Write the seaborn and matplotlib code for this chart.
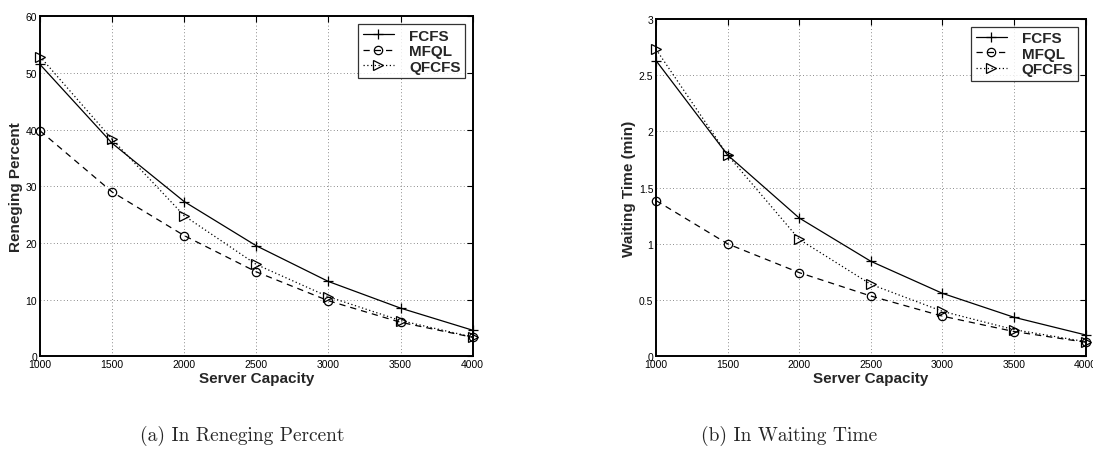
import matplotlib
matplotlib.use("Agg")
import matplotlib.pyplot as plt
import seaborn as sns
import pandas as pd

# Server capacities on the x axis
capacity = [1000, 1500, 2000, 2500, 3000, 3500, 4000]

# Reneging percent per scheduling policy
reneging_fcfs = [51.5, 37.6, 27.3, 19.5, 13.2, 8.5, 4.6]
reneging_mfql = [39.8, 29.0, 21.3, 14.9, 9.8, 6.0, 3.35]
reneging_qfcfs = [52.9, 38.3, 24.8, 16.2, 10.5, 6.3, 3.4]

# Waiting time (min) per scheduling policy
waiting_fcfs = [2.63, 1.79, 1.23, 0.845, 0.56, 0.347, 0.19]
waiting_mfql = [1.385, 1.00, 0.744, 0.536, 0.357, 0.22, 0.125]
waiting_qfcfs = [2.73, 1.79, 1.04, 0.64, 0.40, 0.237, 0.13]

policies = ["FCFS", "MFQL", "QFCFS"]
xticks = [1000, 1500, 2000, 2500, 3000, 3500, 4000]

sns.set_style("white")
plt.rcParams["font.family"] = ["Liberation Sans", "DejaVu Sans"]

styles = {
    "FCFS": dict(linestyle="-", marker="+", markersize=7, markerfacecolor="black"),
    "MFQL": dict(linestyle=(0, (5, 4)), marker="o", markersize=6, markerfacecolor="none"),
    "QFCFS": dict(linestyle=(0, (1, 2)), marker=">", markersize=7, markerfacecolor="none"),
}

fig = plt.figure(figsize=(10.93, 4.6), dpi=100)
ax_a = fig.add_axes([0.0366, 0.2233, 0.3958, 0.7391])
ax_b = fig.add_axes([0.6002, 0.2233, 0.3930, 0.7333])


def draw_panel(ax, series, ymax, yticks, ylabel):
    for name, vals in zip(policies, series):
        df = pd.DataFrame({"capacity": capacity, "value": vals})
        st = styles[name]
        sns.lineplot(data=df, x="capacity", y="value", ax=ax, color="black",
                     linewidth=0.9, linestyle=st["linestyle"], marker=st["marker"],
                     markersize=st["markersize"], markerfacecolor=st["markerfacecolor"],
                     markeredgecolor="black", markeredgewidth=0.9, label=name,
                     clip_on=False)
    ax.set_xlim(1000, 4000)
    ax.set_ylim(0, ymax)
    ax.set_xticks(xticks)
    ax.set_yticks(yticks)
    ax.set_xticklabels([str(t) for t in xticks])
    ax.grid(True, linestyle=(0, (1, 3)), color="#666666", linewidth=0.6)
    for sp in ax.spines.values():
        sp.set_visible(True)
        sp.set_color("black")
        sp.set_linewidth(1.4)
    ax.tick_params(direction="in", length=4, width=0.8, labelsize=7.5,
                   top=True, right=True, pad=2, colors="black")
    ax.set_xlabel("Server Capacity", fontsize=11, fontweight="bold", labelpad=1.5)
    ax.set_ylabel(ylabel, fontsize=11, fontweight="bold", labelpad=2)
    leg = ax.legend(loc="upper right", fontsize=11, frameon=True, fancybox=False,
                    handlelength=2.0, handletextpad=1.0, borderpad=0.3,
                    labelspacing=0.1, borderaxespad=0.5)
    leg.get_frame().set_edgecolor("black")
    leg.get_frame().set_linewidth(0.9)
    for t in leg.get_texts():
        t.set_fontweight("bold")


draw_panel(ax_a, [reneging_fcfs, reneging_mfql, reneging_qfcfs], 60,
           [0, 10, 20, 30, 40, 50, 60], "Reneging Percent")
draw_panel(ax_b, [waiting_fcfs, waiting_mfql, waiting_qfcfs], 3,
           [0, 0.5, 1, 1.5, 2, 2.5, 3], "Waiting Time (min)")
ax_b.set_yticklabels(["0", "0.5", "1", "1.5", "2", "2.5", "3"])

fig.text(0.222, 0.052, "(a) In Reneging Percent", family="cmr10", fontsize=14,
         ha="center", va="center")
fig.text(0.722, 0.052, "(b) In Waiting Time", family="cmr10", fontsize=14,
         ha="center", va="center")

fig.savefig("out.png", dpi=100)
